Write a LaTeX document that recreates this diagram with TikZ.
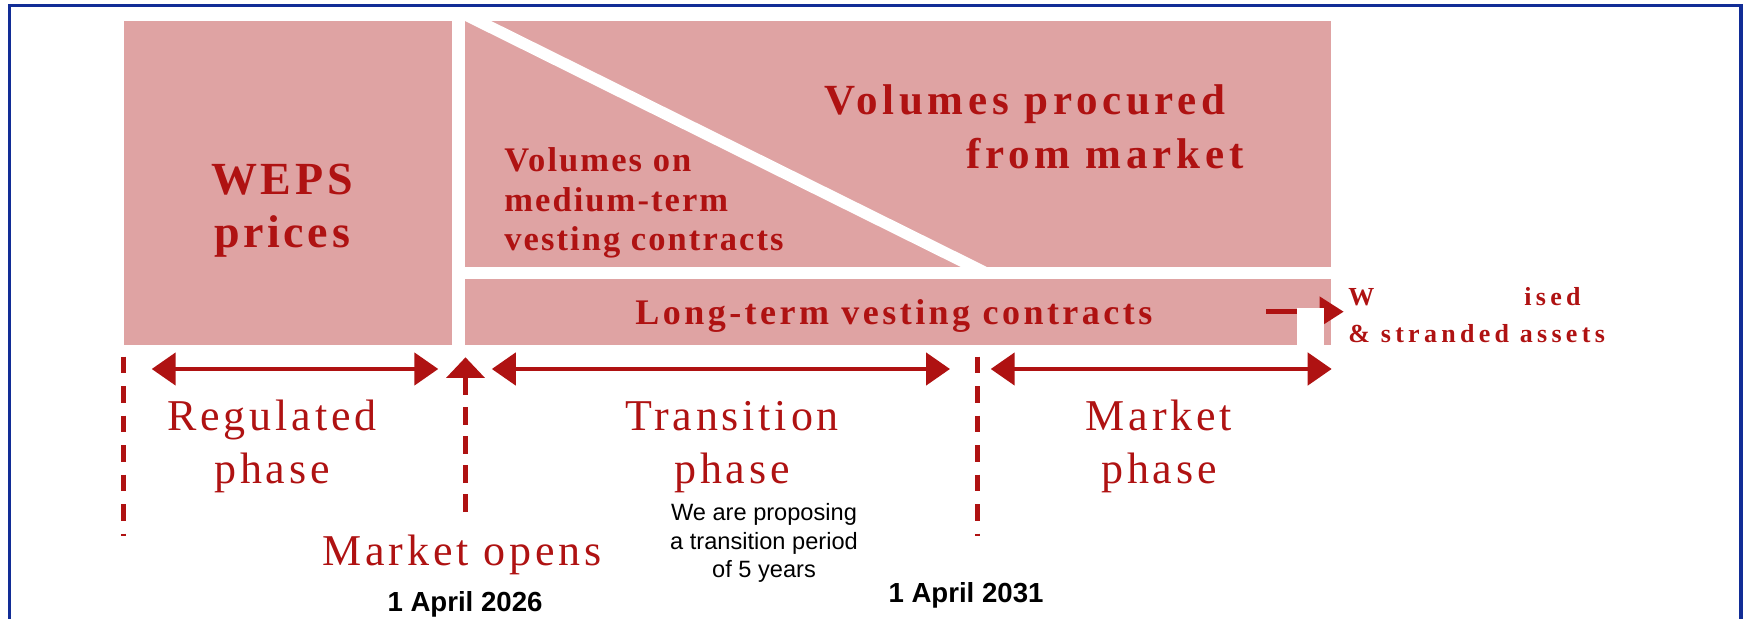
\documentclass[tikz,border=0pt]{standalone}
\usepackage{fontspec}
\setmainfont{Liberation Serif}
\setsansfont{Liberation Sans}
\usetikzlibrary{arrows.meta}

\definecolor{blockpink}{RGB}{223,163,163}
\definecolor{darkred}{RGB}{175,18,18}
\definecolor{frameblue}{RGB}{18,45,150}

% letter spaced serif, size / skip / spacing
\newcommand{\spaced}[3]{\fontsize{#1}{#2}\selectfont\addfontfeature{LetterSpace=#3}}

\begin{document}
\begin{tikzpicture}[x=0.5pt,y=-0.5pt,
  block/.style={fill=blockpink},
  blocktext/.style={text=darkred, inner sep=0pt},
  phasetext/.style={text=darkred, inner sep=0pt, align=center, anchor=base,
    font=\spaced{22}{26.65}{8.7}},
  span/.style={draw=darkred, line width=2.35pt,
    {Triangle[length=12pt,width=16pt]}-{Triangle[length=12pt,width=16pt]}},
  boundary/.style={draw=darkred, line width=2.5pt, dash pattern=on 8.35pt off 6.4pt},
  datetext/.style={inner sep=0pt, anchor=base, font=\sffamily\bfseries\fontsize{13.8}{16}\selectfont}]

\useasboundingbox (0,0) rectangle (1743,619);

% outer frame, open at the bottom
\draw[frameblue, line width=1.9pt] (9.5,640) -- (9.5,5.5) -- (1741,5.5) -- (1741,640);

% volume blocks
\fill[block] (124,21) rectangle (452,345);
\fill[block] (465,21) rectangle (1331,267);
\fill[block] (465,279) rectangle (1331,345);
\draw[white, line width=5.8pt] (466,15) -- (984,272);

% (multi-line nodes sit on the baseline of their last line)
\node[blocktext, align=center, anchor=base, font=\spaced{23}{26.35}{8}\bfseries] (weps) at (282,247.7)
  {WEPS\\prices};
\node[blocktext, align=left, anchor=base west, font=\spaced{21.5}{26.65}{11}\bfseries] (procured) at (824,168.3)
  {Volumes procured\\\hspace*{71pt}from market};
\node[blocktext, align=left, anchor=base west, font=\spaced{17.25}{19.75}{6}\bfseries] (medium) at (504,250.7)
  {Volumes on\\medium-term\\vesting contracts};
\node[blocktext, anchor=base west, font=\spaced{18}{21}{9.6}\bfseries] (longterm) at (635,325)
  {Long-term vesting contracts};

% run-off of the long-term contracts
\coordinate (runoff-s) at (1266,311.7);
\coordinate (runoff-e) at (1343.7,311.7);
\draw[darkred, line width=2.35pt, -{Triangle[length=12pt,width=14.6pt]}] (runoff-s) -- (runoff-e);
\fill[white] (1297,307.7) rectangle (1323.6,345.5);
\node[blocktext, align=left, anchor=base west, font=\spaced{13}{18.3}{16.5}\bfseries] (writeoff) at (1348,342.3)
  {\makebox[88pt][l]{W}ised\\\& stranded assets};

% phase boundaries
\draw[boundary] (123.3,356.7) -- (123.3,535.7);
\draw[boundary] (977,356.7) -- (977,535.7);
\draw[darkred, line width=2.35pt, -{Triangle[length=10.25pt,width=18.75pt]}] (465.5,395) -- (465.5,357.3);
\draw[darkred, line width=2.35pt, dash pattern=on 9pt off 5.5pt] (465.5,512) -- (465.5,407);

% phase spans
\coordinate (reg-l) at (151.7,369);
\coordinate (reg-r) at (438.3,369);
\coordinate (tra-l) at (491.8,369);
\coordinate (tra-r) at (950,369);
\coordinate (mkt-l) at (990.7,369);
\coordinate (mkt-r) at (1331.7,369);
\draw[span] (reg-l) -- (reg-r);
\draw[span] (tra-l) -- (tra-r);
\draw[span] (mkt-l) -- (mkt-r);

\node[phasetext] (regulated) at (272,483.3) {Regulated\\phase};
\node[phasetext] (transition) at (732,483.3) {Transition\\phase};
\node[phasetext] (market) at (1159,483.3) {Market\\phase};
\node[phasetext] (opens) at (462,565.5) {Market opens};

\node[datetext] (date26) at (465,611.7) {1 April 2026};
\node[datetext] (date31) at (966,602.7) {1 April 2031};
\node[inner sep=0pt, align=center, anchor=base, font=\sffamily\fontsize{11.8}{14.15}\selectfont] (proposal) at (764,577.3)
  {We are proposing\\a transition period\\of 5 years};

\end{tikzpicture}
\end{document}
